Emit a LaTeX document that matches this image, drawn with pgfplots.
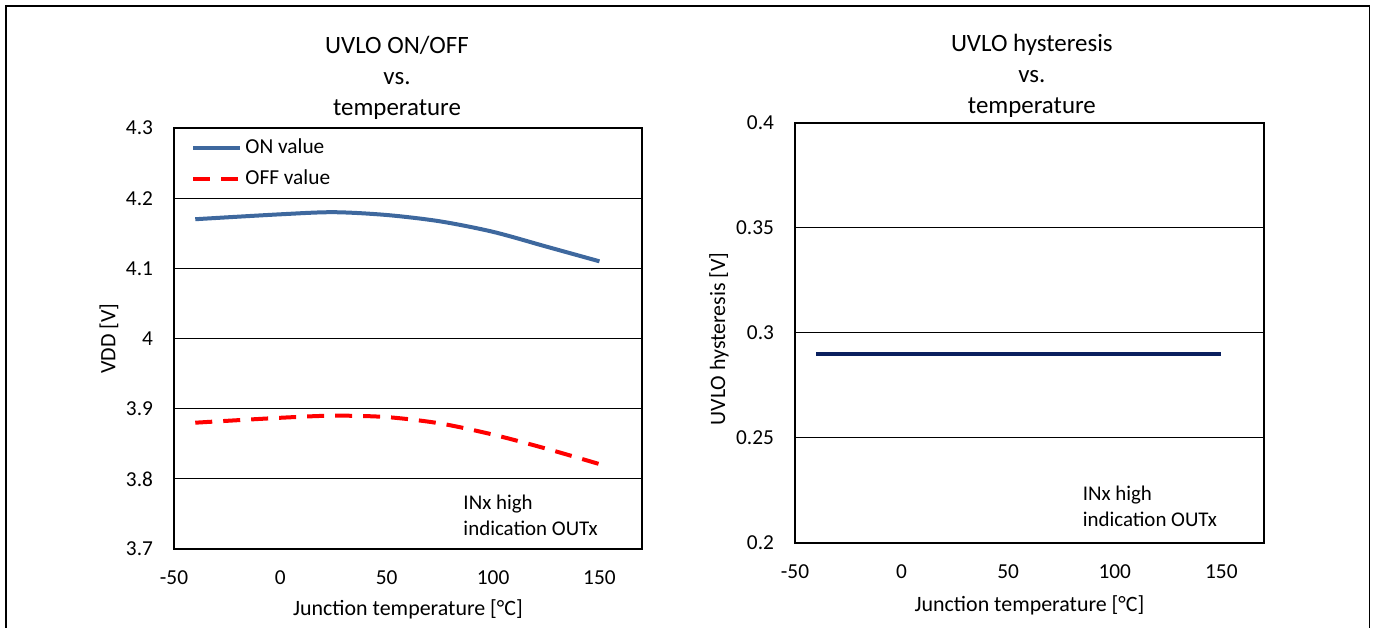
\documentclass[border=0pt]{standalone}
\usepackage{fontspec}
\setmainfont{Carlito}
\usepackage{pgfplots}
\pgfplotsset{compat=1.18}

\definecolor{onblue}{RGB}{62,104,158}
\definecolor{offred}{RGB}{255,0,0}
\definecolor{hystnavy}{RGB}{10,32,94}

\pgfplotsset{
  uvlo/.style={
    scale only axis,
    anchor=south west,
    axis line style={line width=1.3bp},
    xmin=-50, xmax=170,
    xtick={-50,0,50,100,150},
    tick style={draw=none},
    ymajorgrids,
    major grid style={black, line width=0.5bp},
    scaled ticks=false,
    /pgf/number format/assume math mode=true,
    ticklabel style={font=\fontsize{10.7}{12}\selectfont},
    xticklabel style={yshift=-7.5bp},
    yticklabel style={xshift=-7bp},
    label style={font=\fontsize{11}{12}\selectfont},
    clip=false,
  },
}

\begin{document}
\begin{tikzpicture}
\useasboundingbox (0,0) rectangle (687bp,314bp);
% outer frame
\draw[line width=0.6bp] (3bp,-2bp) -- (3bp,311bp) -- (684.8bp,311bp) -- (684.8bp,-2bp);

% left: UVLO ON/OFF
\begin{axis}[uvlo,
  at={(87bp,39.5bp)}, width=234bp, height=210.5bp,
  ymin=3.7, ymax=4.3,
  ytick={3.7,3.8,3.9,4,4.1,4.2,4.3},
  yticklabels={3.7,3.8,3.9,4,4.1,4.2,4.3},
  xlabel={Junction temperature [°C]},
  ylabel={VDD [V]},
  xlabel style={at={(axis description cs:0.5,-0.1425)}, anchor=center},
  ylabel style={at={(axis description cs:-0.139,0.5)}, anchor=center},
  legend style={at={(axis description cs:0,1)}, anchor=north west,
    draw=none, fill=none, inner xsep=8.5bp, inner ysep=5bp, row sep=5.5bp,
    font=\fontsize{10.7}{12}\selectfont,
    nodes={inner xsep=1.5bp, inner ysep=0pt, text height=7.5bp, text depth=2.5bp}},
  legend cell align=left,
  legend image code/.code={\draw[#1] (0bp,0bp) -- (23.5bp,0bp);},
]
\addplot[onblue, line width=2bp, smooth] coordinates {
  (-40,4.170) (0,4.177) (25,4.180) (50,4.176) (75,4.167) (100,4.152) (125,4.131) (150,4.110)
};
\addlegendentry{ON value}
\addplot[offred, line width=2bp, smooth, dash pattern=on 8.5bp off 5.5bp] coordinates {
  (-40,3.880) (0,3.887) (25,3.890) (50,3.888) (75,3.879) (100,3.863) (125,3.843) (150,3.821)
};
\addlegendentry{OFF value}
\node[anchor=west, align=left, inner sep=0pt, font=\fontsize{10.5}{13}\selectfont]
  at (axis cs:85.9,3.748) {INx high\\indication OUTx};
\node[align=center, font=\fontsize{12.5}{15.5}\selectfont]
  at (axis description cs:0.4765,1.119) {UVLO ON/OFF\\vs.\\temperature};
\end{axis}

% right: UVLO hysteresis
\begin{axis}[uvlo,
  at={(397.5bp,42.5bp)}, width=234.5bp, height=210bp,
  ymin=0.2, ymax=0.4,
  ytick={0.2,0.25,0.3,0.35,0.4},
  yticklabels={0.2,0.25,0.3,0.35,0.4},
  xlabel={Junction temperature [°C]},
  ylabel={UVLO hysteresis [V]},
  xlabel style={at={(axis description cs:0.5,-0.1476)}, anchor=center},
  ylabel style={at={(axis description cs:-0.162,0.486)}, anchor=center},
]
\addplot[hystnavy, line width=2.4bp] coordinates {
  (-40,0.29) (150,0.29)
};
\node[anchor=west, align=left, inner sep=0pt, font=\fontsize{10.5}{13}\selectfont]
  at (axis cs:84.8,0.2176) {INx high\\indication OUTx};
\node[align=center, font=\fontsize{12.5}{15.5}\selectfont]
  at (axis description cs:0.505,1.112) {UVLO hysteresis\\vs.\\temperature};
\end{axis}
\end{tikzpicture}
\end{document}
